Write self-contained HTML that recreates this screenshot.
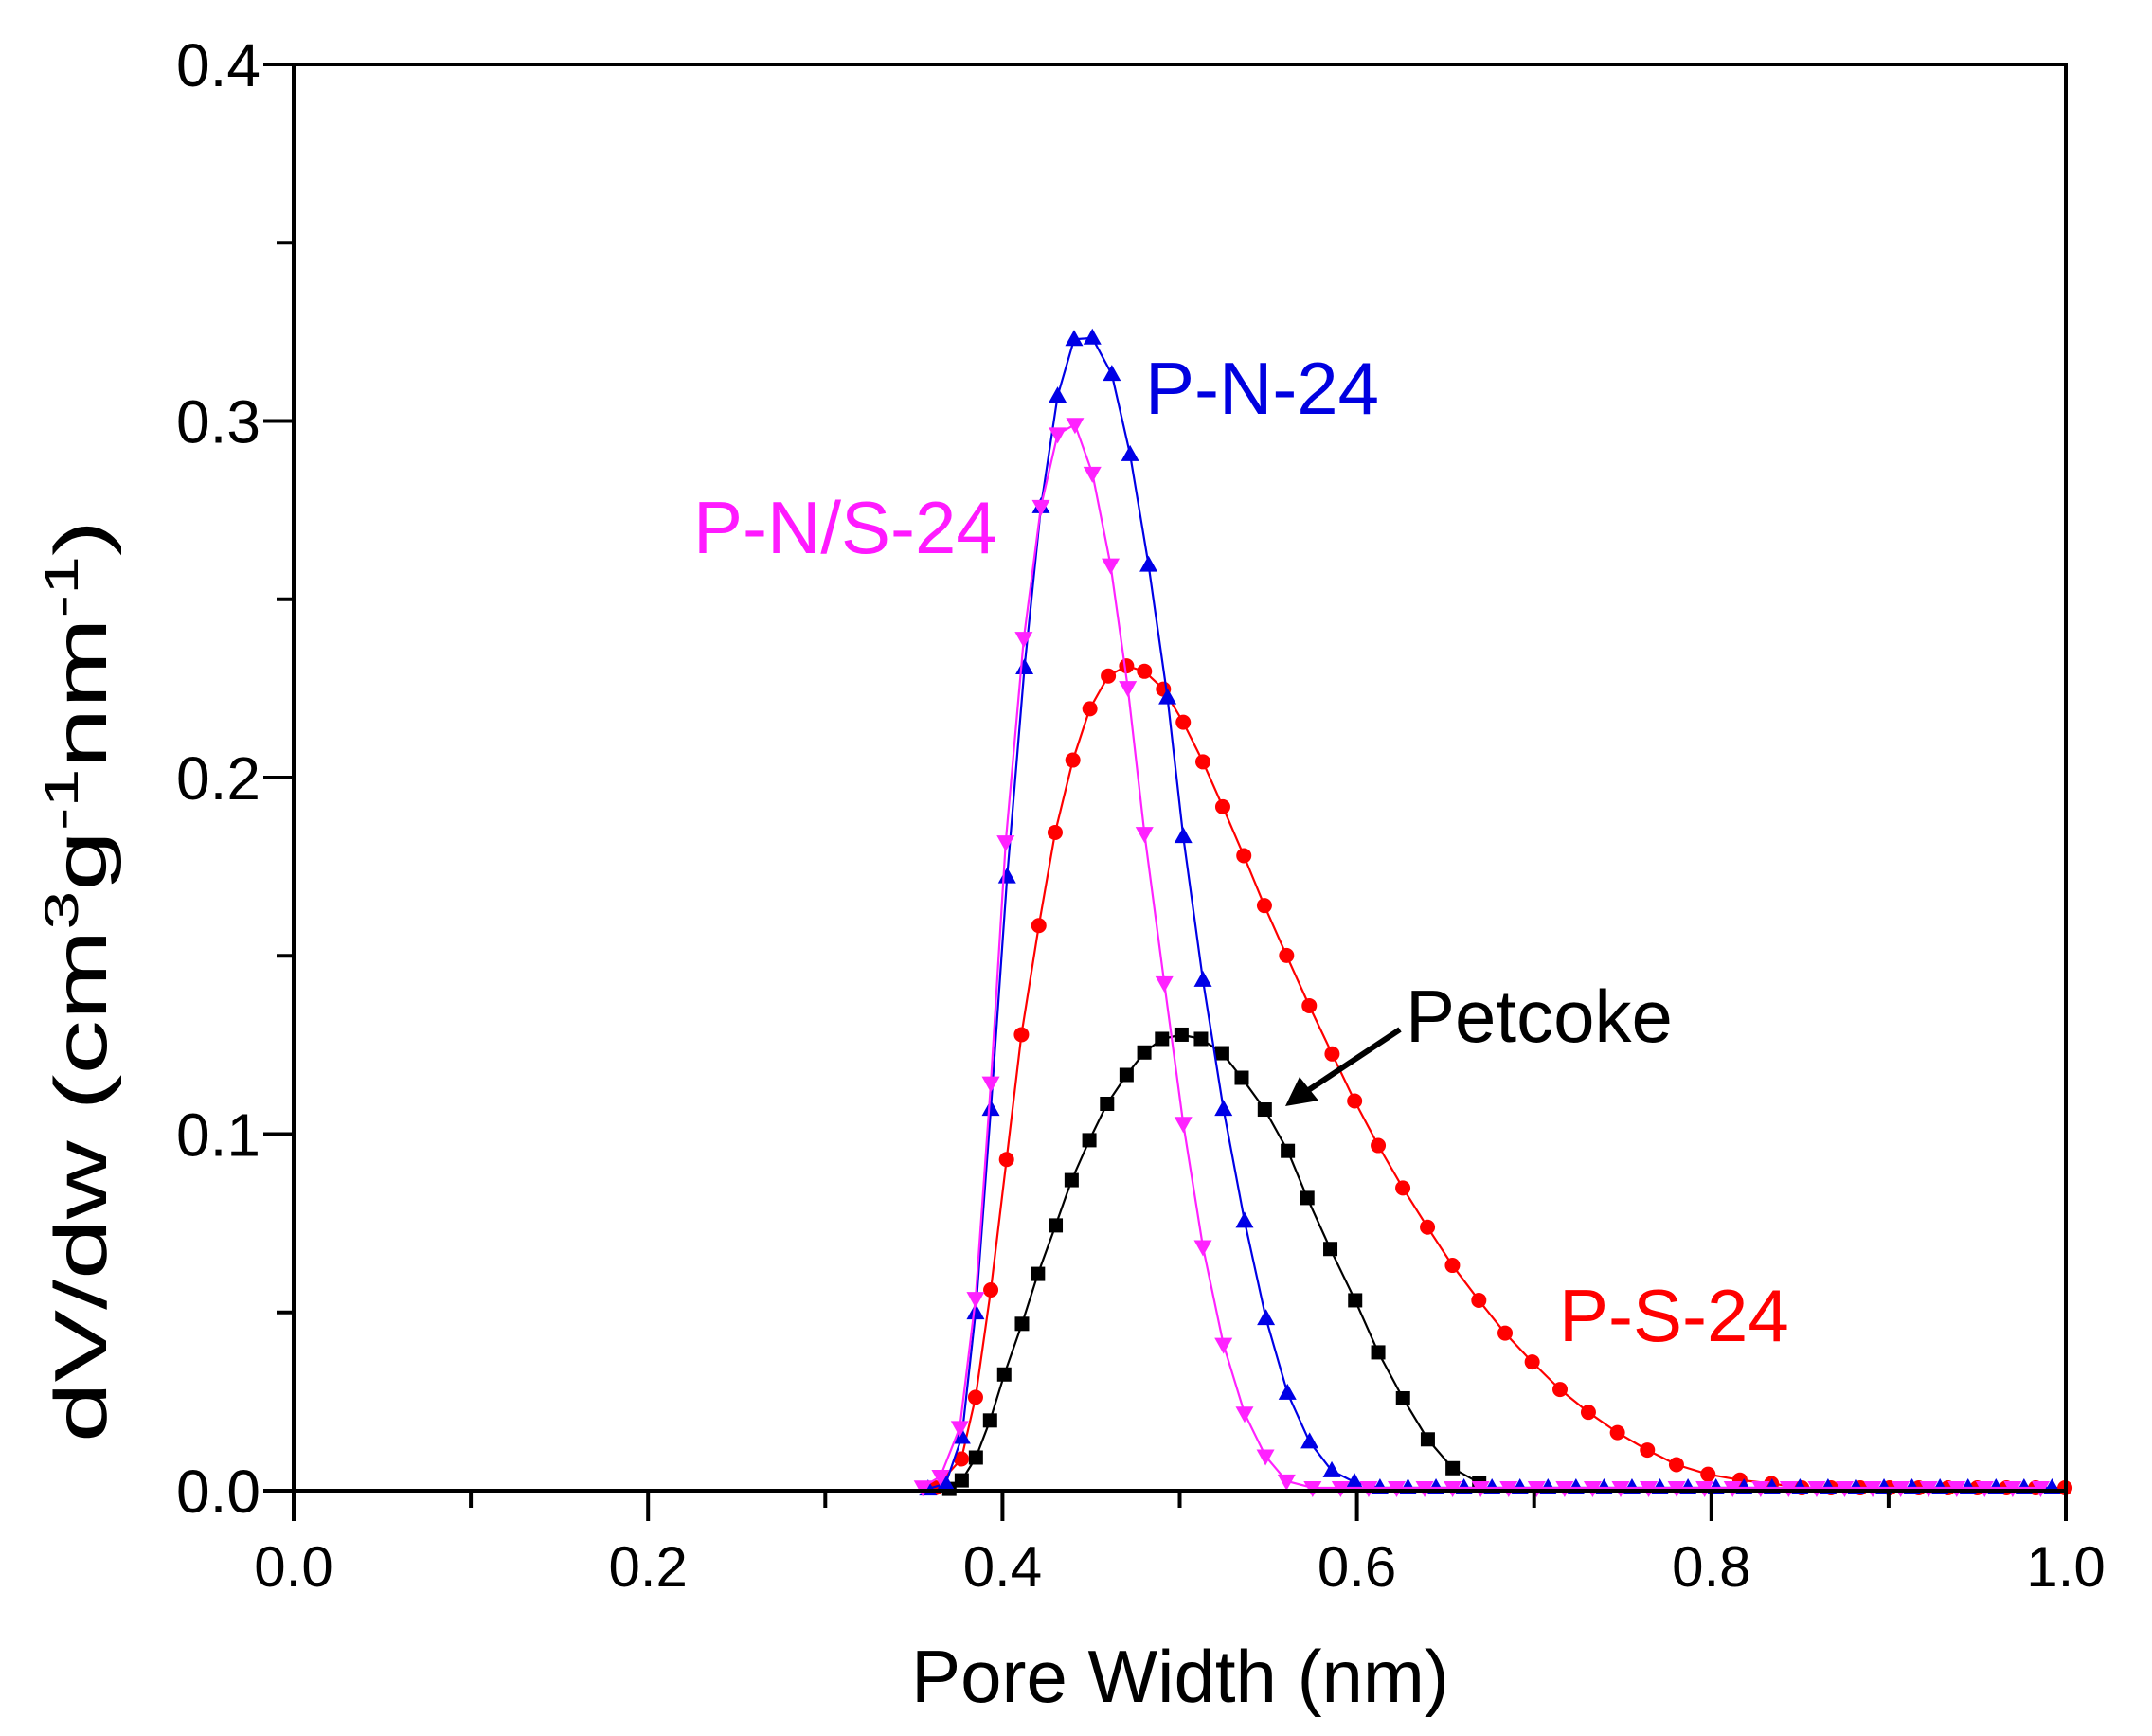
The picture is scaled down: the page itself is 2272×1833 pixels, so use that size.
<!DOCTYPE html>
<html><head><meta charset="utf-8"><style>
html,body{margin:0;padding:0;background:#fff;}
svg{display:block;}
text{font-family:"Liberation Sans",Arial,sans-serif;}
</style></head><body>
<svg id="s" xmlns="http://www.w3.org/2000/svg" width="2272" height="1833" viewBox="0 0 2272 1833">
<rect width="2272" height="1833" fill="#fff"/>
<g id="plot"></g>
<g id="axes" stroke="#000" stroke-width="4" fill="none">
<rect x="310" y="68" width="1871" height="1506"/>
</g>
<g id="ticks" stroke="#000" stroke-width="4"></g>
<g font-size="60" fill="#000" id="labels"></g>
<text x="1246" y="1797" font-size="78" text-anchor="middle">Pore Width (nm)</text>
<text transform="translate(112,1036) rotate(-90) scale(1.47,1)" font-size="78" text-anchor="middle">dV/dw (cm<tspan font-size="50" dy="-30">3</tspan><tspan dy="30">g</tspan><tspan font-size="50" dy="-30">-1</tspan><tspan dy="30">nm</tspan><tspan font-size="50" dy="-30">-1</tspan><tspan dy="30">)</tspan></text>
<text x="1209" y="437" font-size="78" fill="#0000e0">P-N-24</text>
<text x="732" y="584" font-size="78" fill="#ff1aff">P-N/S-24</text>
<text x="1484" y="1100" font-size="78" fill="#000">Petcoke</text>
<text x="1646" y="1416" font-size="78" fill="#ff0000">P-S-24</text>
<line x1="1478" y1="1087" x2="1380" y2="1152" stroke="#000" stroke-width="6"/>
<polygon points="1357,1168 1372,1137 1392,1162" fill="#000"/>
</svg>
<script>
var X=function(x){return 310+1871*x;}, Y=function(y){return 1574-3765*y;};
var NS="http://www.w3.org/2000/svg";
function el(p,n,a){var e=document.createElementNS(NS,n);for(var k in a)e.setAttribute(k,a[k]);p.appendChild(e);return e;}
var ticks=document.getElementById('ticks'), labels=document.getElementById('labels');
for(var i=0;i<=10;i++){var x=X(i/10);var L=(i%2==0)?32:18;el(ticks,'line',{x1:x,y1:1574,x2:x,y2:1574+L});
 if(i%2==0){var t=el(labels,'text',{x:x,y:1675,'text-anchor':'middle'});t.textContent=(i/10).toFixed(1);}}
for(var j=0;j<=8;j++){var y=Y(j*0.05);var L=(j%2==0)?32:18;el(ticks,'line',{x1:310-L,y1:y,x2:310,y2:y});
 if(j%2==0){var t=el(labels,'text',{x:275,y:y+23,'text-anchor':'end','font-size':64});t.textContent=(j*0.05).toFixed(1);}}
function flat(arr,from,step){for(var x=from;x<=1.0001;x+=step)arr.push([x,0.0008]);return arr;}
var black=[[.370,.0005],[.377,.0029],[.385,.0093],[.393,.0197],[.401,.0326],[.411,.0468],[.420,.0608],[.430,.0744],[.439,.0871],[.449,.0983],[.459,.1085],[.470,.1166],[.480,.1229],[.490,.1267],[.501,.1279],[.512,.1267],[.524,.1227],[.535,.1158],[.548,.1069],[.561,.0953],[.572,.0821],[.585,.0678],[.599,.0534],[.612,.0388],[.626,.0259],[.640,.0144],[.654,.0063],[.669,.0022]];
var red=[[.362,.0008],[.3768,.0089],[.3848,.0262],[.3934,.0563],[.4023,.0929],[.4107,.1279],[.4205,.1585],[.4297,.1846],[.4397,.2049],[.4493,.2193],[.4597,.2285],[.4700,.2313],[.4801,.2298],[.4908,.2248],[.5020,.2155],[.5131,.2044],[.5243,.1918],[.5362,.1781],[.5478,.1641],[.5603,.1501],[.5731,.1360],[.5860,.1225],[.5987,.1093],[.6120,.0968],[.6259,.0849],[.6398,.0739],[.6539,.0632],[.6688,.0534],[.6836,.0442],[.6989,.0361],[.7146,.0284],[.7306,.0220],[.7470,.0163],[.7639,.0114],[.7803,.0073],[.7981,.0046],[.8161,.0030],[.8339,.0020]];
flat(red,.851,.0165);
var blue=[[.358,.0005],[.368,.002],[.377,.015],[.3848,.0499],[.3934,.1070],[.4026,.1722],[.4124,.2308],[.4217,.2760],[.4311,.3070],[.4404,.3229],[.4507,.3233],[.4617,.3131],[.4720,.2906],[.4824,.2596],[.4931,.2224],[.5020,.1835],[.5131,.1432],[.5247,.1070],[.5366,.0756],[.5487,.0483],[.5608,.0274],[.5733,.0137],[.5858,.0056],[.5986,.0024]];
flat(blue,.613,.0158);
var mag=[[.355,.001],[.365,.004],[.3759,.0177],[.3848,.0539],[.3934,.1143],[.4018,.1819],[.4120,.2390],[.4217,.2760],[.4311,.2963],[.4409,.2990],[.4507,.2853],[.4610,.2596],[.4707,.2252],[.4801,.1843],[.4913,.1424],[.5020,.1030],[.5131,.0684],[.5247,.0410],[.5366,.0217],[.5484,.0097],[.5603,.0027]];
flat(mag,.575,.0158);
var plot=document.getElementById('plot');
function series(d,col,mk){
 var p=d.map(function(q){return X(q[0]).toFixed(1)+','+Y(q[1]).toFixed(1);}).join(' ');
 el(plot,'polyline',{points:p,fill:'none',stroke:col,'stroke-width':2.2});
 d.forEach(function(q){var x=X(q[0]),y=Y(q[1]);
  if(mk=='s')el(plot,'rect',{x:x-7.5,y:y-7.5,width:15,height:15,fill:col});
  else if(mk=='c')el(plot,'circle',{cx:x,cy:y,r:8,fill:col});
  else if(mk=='u')el(plot,'polygon',{points:(x-9.5)+','+(y+7)+' '+(x+9.5)+','+(y+7)+' '+x+','+(y-10),fill:col});
  else el(plot,'polygon',{points:(x-9.5)+','+(y-7)+' '+(x+9.5)+','+(y-7)+' '+x+','+(y+10),fill:col});
 });
}
series(black,'#000','s');
series(red,'#ff0000','c');
series(blue,'#0000e6','u');
series(mag,'#ff22ff','d');
</script>
</body></html>
